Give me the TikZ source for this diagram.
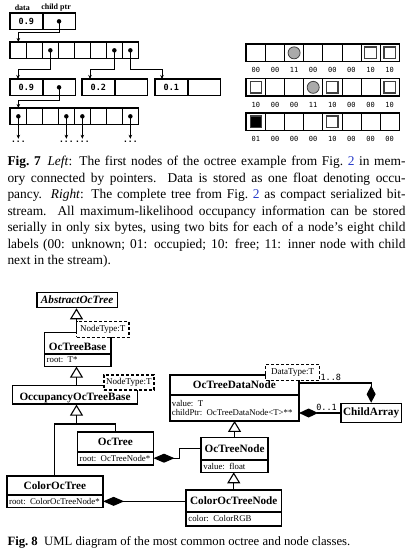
\documentclass[tikz,border=0pt]{standalone}
\usepackage{fontspec}
\setmainfont{Liberation Serif}
\newfontfamily\bitfont{DejaVu Sans Mono}
\usetikzlibrary{arrows.meta,positioning}

\definecolor{linkblue}{RGB}{40,60,200}
\definecolor{occgray}{RGB}{170,170,170}

\newcommand{\valfont}{\bitfont\bfseries\fontsize{8.5}{10}\selectfont}
\newcommand{\lblfont}{\bitfont\fontsize{7}{8}\selectfont}
\newcommand{\clsfont}{\bfseries\fontsize{11.2}{13}\selectfont}
\newcommand{\attfont}{\fontsize{8.8}{9.6}\selectfont}
\newcommand{\tplfont}{\fontsize{9}{10}\selectfont}
\newcommand{\capfont}{\fontsize{13.4}{16.5}\selectfont}

\tikzset{
  fld/.style={draw, line width=0.7pt, minimum width=32pt, minimum height=16pt, inner sep=0pt, font=\valfont},
  cell/.style={draw, line width=0.7pt, minimum width=16pt, minimum height=16pt, inner sep=0pt},
  bcell/.style={draw, line width=0.7pt, minimum width=19.1pt, minimum height=17pt, inner sep=0pt},
  frame/.style={line width=1.5pt},
  dot/.style={circle, fill, inner sep=0pt, minimum size=4.5pt},
  ptr/.style={line width=0.8pt, -{Stealth[length=4pt, width=3.5pt]}},
  more/.style={font=\bitfont\bfseries\fontsize{8}{9}\selectfont, inner sep=2pt},
  hdr/.style={font=\bfseries\fontsize{8}{9}\selectfont, inner sep=1pt},
  bitlbl/.style={font=\lblfont, inner sep=1.5pt},
  innernode/.style={circle, draw=black!75, fill=occgray, line width=0.8pt, minimum size=12pt, inner sep=0pt},
  freecell/.style={draw=black!75, fill=white, line width=1.3pt, minimum size=11.5pt, inner sep=0pt},
  occcell/.style={draw=black!75, fill=black, line width=1.3pt, minimum size=11.5pt, inner sep=0pt},
  cls/.style={draw, line width=0.8pt, anchor=north west, inner sep=0pt, font=\clsfont},
  att/.style={draw, line width=0.8pt, anchor=north west, inner sep=0pt, inner xsep=2pt, align=left, font=\attfont},
  tmpl/.style={draw, dash pattern=on 3pt off 2pt, line width=1.2pt, fill=white, anchor=north west, inner sep=0pt, font=\tplfont},
  umlframe/.style={line width=1.6pt},
  inherit/.style={line width=1.1pt, -{Triangle[open, length=11pt, width=13pt]}},
  assoc/.style={line width=1.1pt},
  compose/.style={line width=1.1pt, {Diamond[length=#1, width=9pt]}-},
  compose/.default=21pt,
  mult/.style={font=\bitfont\fontsize{8.5}{9}\selectfont, inner sep=1.5pt},
  capt/.style={inner sep=0pt, text width=398pt, align=justify, font=\capfont},
}

\begin{document}
\begin{tikzpicture}[x=1pt, y=-1pt]
\useasboundingbox (0,0) rectangle (416,556);

% records: data field and child pointer
\foreach \n/\x/\y/\v in {r0/10/13/0.9, r1/10/79/0.9, r2/82/79/0.2, r3/155/79/0.1}{
  \node[fld, anchor=north west] (\n-d) at (\x,\y) {\v};
  \node[fld, anchor=north west] (\n-p) at (\n-d.north east) {};
  \draw[frame] (\n-d.north west) rectangle (\n-p.south east);
}
\node[hdr, above=1pt of r0-d, xshift=-4pt] (hd-data) {data};
\node[hdr, above=1pt of r0-p, xshift=-3pt] (hd-ptr) {child ptr};

% arrays of eight children
\foreach \a/\y in {a0/42, a1/108}{
  \foreach \i in {1,...,8}
    \node[cell, anchor=north west] (\a-\i) at ({10+16*(\i-1)},\y) {};
  \draw[frame] (\a-1.north west) rectangle (\a-8.south east);
}
\foreach \c in {r0-p, r1-p, a0-3, a0-7, a0-8, a1-1, a1-4, a1-5, a1-8}
  \node[dot] at (\c) {};

% pointers
\draw[ptr] (r0-p.center) -- ++(0,11) -| (a0-1.north);
\draw[ptr] (a0-3.center) -- ++(0,19) -| ([xshift=8pt]r1-d.north west);
\draw[ptr] (a0-7.center) -- ++(0,19) -| ([xshift=8pt]r2-d.north west);
\draw[ptr] (a0-8.center) -- ++(0,19) -| ([xshift=7pt]r3-d.north west);
\draw[ptr] (r1-p.center) -- ++(0,13) -| (a1-1.north);
\foreach \i in {1,4,5,8}{
  \node[more] (more-\i) at ([yshift=-17pt]a1-\i.south) {...};
  \draw[ptr] (a1-\i.center) -- (more-\i);
}

% serialized bitstream
\foreach \r/\y/\labs in {b0/44/{00,00,11,00,00,00,10,10}, b1/78.5/{10,00,00,11,10,00,00,10}, b2/113/{01,00,00,00,10,00,00,00}}{
  \foreach \lab [count=\i] in \labs {
    \node[bcell, anchor=north west] (\r-\i) at ({246+19.1*(\i-1)},\y) {};
    \node[bitlbl, below=4pt of \r-\i] {\lab};
    \ifnum\lab=11 \node[innernode] at (\r-\i) {}; \fi
    \ifnum\lab=10 \node[freecell] at (\r-\i) {}; \fi
    \ifnum\lab=1 \node[occcell] at (\r-\i) {}; \fi
  }
  \draw[frame] (\r-1.north west) rectangle (\r-8.south east);
}

% caption of fig. 7
\node[capt, anchor=north west] (cap7) at (7.3,156) {\noindent\textbf{Fig.~7}\enspace\textit{Left}: The first nodes of the octree example from Fig.~\textcolor{linkblue}{2} in mem-\linebreak
ory connected by pointers. Data is stored as one float denoting occu-\linebreak
pancy. \textit{Right}: The complete tree from Fig.~\textcolor{linkblue}{2} as compact serialized bit-\linebreak
stream. All maximum-likelihood occupancy information can be stored\linebreak
serially in only six bytes, using two bits for each of a node's eight child\linebreak
labels (00: unknown; 01: occupied; 10: free; 11: inner node with child\linebreak
next in the stream).};

% UML classes
\node[cls, line width=1.6pt, minimum width=80.7pt, minimum height=15pt, font=\clsfont\itshape] (aot) at (36,291.7) {AbstractOcTree};
\node[cls, minimum width=65.7pt, minimum height=20.4pt, text height=17.6pt, text depth=2.8pt] (ocb) at (44.3,332.3) {OcTreeBase};
\node[att, text width=61.7pt, minimum height=12.3pt] (ocb-a) at (ocb.south west) {root: T*};
\node[cls, line width=1.6pt, minimum width=125pt, minimum height=18.5pt, text height=14pt, text depth=2.8pt] (occ) at (11.7,384.5) {OccupancyOcTreeBase};
\node[cls, minimum width=75.4pt, minimum height=19pt] (ot) at (77.3,431.7) {OcTree};
\node[att, text width=71.4pt, minimum height=12.6pt] (ot-a) at (ot.south west) {root: OcTreeNode*};
\node[cls, minimum width=95.6pt, minimum height=18.3pt] (cot) at (6.7,476) {ColorOcTree};
\node[att, text width=91.6pt, minimum height=11.7pt] (cot-a) at (cot.south west) {root: ColorOcTreeNode*};
\node[cls, minimum width=128.8pt, minimum height=19pt] (odn) at (169.5,375) {OcTreeDataNode};
\node[att, text width=124.8pt, minimum height=25.3pt] (odn-a) at (odn.south west) {value: T\\childPtr: OcTreeDataNode<T>**};
\node[cls, line width=1.6pt, minimum width=60.7pt, minimum height=19pt] (ca) at (340,402.7) {ChildArray};
\node[cls, minimum width=66.3pt, minimum height=21.7pt] (otn) at (201,437.3) {OcTreeNode};
\node[att, text width=62.3pt, minimum height=11.7pt] (otn-a) at (otn.south west) {value: float};
\node[cls, minimum width=94.7pt, minimum height=21pt] (cotn) at (186,490) {ColorOcTreeNode};
\node[att, text width=90.7pt, minimum height=13.3pt] (cotn-a) at (cotn.south west) {color: ColorRGB};
\foreach \c in {ocb, ot, cot, odn, otn, cotn}
  \draw[umlframe] (\c.north west) rectangle (\c-a.south east);

% template parameters
\node[tmpl, minimum width=52.3pt, minimum height=16pt] (ocb-t) at (76,320.7) {NodeType:T};
\node[tmpl, minimum width=50pt, minimum height=15pt] (occ-t) at (103.3,374.3) {NodeType:T};
\node[tmpl, minimum width=54pt, minimum height=15.5pt] (odn-t) at (265,364) {DataType:T};

% generalization
\coordinate (jn) at (76.5,424);
\draw[inherit] (ocb.north -| jn) -- (aot.south -| jn);
\draw[inherit] (occ.north -| jn) -- (ocb-a.south -| jn);
\draw[inherit] (ot.north) |- (jn) -- (occ.south -| jn);
\draw[assoc] (cot.north) |- (jn);
\draw[inherit] (otn.north) -- (otn.north |- odn-a.south);
\draw[inherit] (cotn.north) -- (cotn.north |- otn-a.south);

% composition
\draw[compose] (ot-a.east) -- ++(25.6,0) |- (otn.west);
\draw[compose] (cot-a.east) -- (cot-a.east -| cotn.west);
\draw[compose=19pt] (ca.west -| odn-a.east) -- node[mult, above, pos=0.67] (m01) {0..1} (ca.west);
\draw[compose=17pt] (ca.north) |- node[mult, above, pos=0.78] (m18) {1..8} ([yshift=-8pt]odn.north east);

% caption of fig. 8
\node[capt, anchor=north west, font=\fontsize{12.7}{16}\selectfont] (cap8) at (7.3,536) {\noindent\textbf{Fig.~8}\enspace UML diagram of the most common octree and node classes.};
\end{tikzpicture}
\end{document}
